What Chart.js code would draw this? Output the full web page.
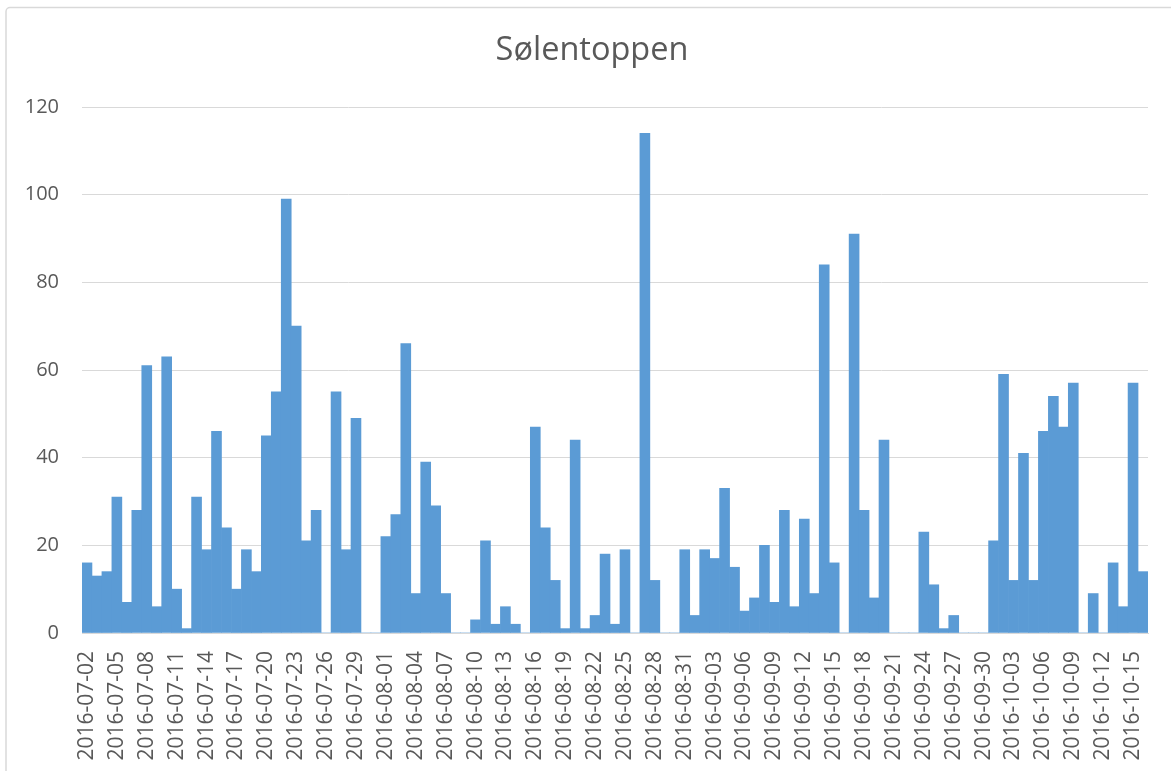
<!DOCTYPE html>
<html>
<head>
<meta charset="utf-8">
<script src="https://cdn.jsdelivr.net/npm/chart.js@4/dist/chart.umd.min.js"></script>
<style>
  html, body { margin: 0; padding: 0; background: #ffffff; }
  #wrap { position: relative; width: 1171px; height: 771px; }
</style>
</head>
<body>
<div id="wrap"><canvas id="c"></canvas></div>
<script>
const chartTitle = "Sølentoppen";

const dates = [
  "2016-07-02","2016-07-03","2016-07-04","2016-07-05","2016-07-06","2016-07-07","2016-07-08","2016-07-09","2016-07-10","2016-07-11",
  "2016-07-12","2016-07-13","2016-07-14","2016-07-15","2016-07-16","2016-07-17","2016-07-18","2016-07-19","2016-07-20","2016-07-21",
  "2016-07-22","2016-07-23","2016-07-24","2016-07-25","2016-07-26","2016-07-27","2016-07-28","2016-07-29","2016-07-30","2016-07-31",
  "2016-08-01","2016-08-02","2016-08-03","2016-08-04","2016-08-05","2016-08-06","2016-08-07","2016-08-08","2016-08-09","2016-08-10",
  "2016-08-11","2016-08-12","2016-08-13","2016-08-14","2016-08-15","2016-08-16","2016-08-17","2016-08-18","2016-08-19","2016-08-20",
  "2016-08-21","2016-08-22","2016-08-23","2016-08-24","2016-08-25","2016-08-26","2016-08-27","2016-08-28","2016-08-29","2016-08-30",
  "2016-08-31","2016-09-01","2016-09-02","2016-09-03","2016-09-04","2016-09-05","2016-09-06","2016-09-07","2016-09-08","2016-09-09",
  "2016-09-10","2016-09-11","2016-09-12","2016-09-13","2016-09-14","2016-09-15","2016-09-16","2016-09-17","2016-09-18","2016-09-19",
  "2016-09-20","2016-09-21","2016-09-22","2016-09-23","2016-09-24","2016-09-25","2016-09-26","2016-09-27","2016-09-28","2016-09-29",
  "2016-09-30","2016-10-01","2016-10-02","2016-10-03","2016-10-04","2016-10-05","2016-10-06","2016-10-07","2016-10-08","2016-10-09",
  "2016-10-10","2016-10-11","2016-10-12","2016-10-13","2016-10-14","2016-10-15","2016-10-16"
];

const counts = [
  16,13,14,31,7,28,61,6,63,10,
  1,31,19,46,24,10,19,14,45,55,
  99,70,21,28,0,55,19,49,0,0,
  22,27,66,9,39,29,9,0,0,3,
  21,2,6,2,0,47,24,12,1,44,
  1,4,18,2,19,0,114,12,0,0,
  19,4,19,17,33,15,5,8,20,7,
  28,6,26,9,84,16,0,91,28,8,
  44,0,0,0,23,11,1,4,0,0,
  0,21,59,12,41,12,46,54,47,57,
  0,9,0,16,6,57,14
];

const yTicks = [0, 20, 40, 60, 80, 100, 120];
const labelEvery = 3;

const textColor = "#595959";
const gridColor = "#d9d9d9";
const barColor = "#5b9bd5";
const fontFamily = "'Open Sans', 'Noto Sans', sans-serif";

const frame = {
  id: "frame",
  beforeDraw(chart) {
    const ctx = chart.ctx;
    ctx.save();
    ctx.fillStyle = "#ffffff";
    ctx.fillRect(0, 0, chart.width, chart.height);
    ctx.strokeStyle = gridColor;
    ctx.lineWidth = 1.5;
    ctx.beginPath();
    if (ctx.roundRect) ctx.roundRect(6, 7.5, 1300, 1000, 4); else ctx.rect(6, 7.5, 1300, 1000);
    ctx.stroke();
    ctx.restore();
  },
  afterDraw(chart) {
    const ctx = chart.ctx;
    ctx.save();
    ctx.fillStyle = textColor;
    ctx.font = "32.5px " + fontFamily;
    ctx.textAlign = "center";
    ctx.textBaseline = "alphabetic";
    ctx.fillText(chartTitle, 592, 60);
    ctx.restore();
  }
};

new Chart(document.getElementById("c"), {
  type: "bar",
  data: {
    labels: dates,
    datasets: [{
      label: chartTitle,
      data: counts,
      backgroundColor: barColor,
      borderWidth: 0,
      categoryPercentage: 1.0,
      barPercentage: 1.0
    }]
  },
  plugins: [frame],
  options: {
    responsive: true,
    maintainAspectRatio: false,
    animation: false,
    layout: { padding: { left: 0, right: 23, top: 107, bottom: 0 } },
    plugins: {
      legend: { display: false },
      tooltip: { enabled: false },
      title: { display: false }
    },
    scales: {
      x: {
        grid: { display: false, drawTicks: false },
        border: { display: true, color: gridColor, width: 1 },
        ticks: {
          autoSkip: false,
          minRotation: 90,
          maxRotation: 90,
          padding: 18,
          color: textColor,
          font: { family: fontFamily, size: 21 },
          callback: function(value, index) {
            return index % labelEvery === 0 ? dates[index] : "";
          }
        },
        afterFit(scale) {
          scale.height = 138;
          scale.paddingLeft = 0;
          scale.paddingRight = 0;
        }
      },
      y: {
        min: 0,
        max: 120,
        afterBuildTicks(scale) { scale.ticks = yTicks.map(v => ({ value: v })); },
        grid: { color: gridColor, lineWidth: 1, drawTicks: false },
        border: { display: false },
        ticks: {
          padding: 23,
          color: textColor,
          font: { family: fontFamily, size: 20 }
        },
        afterFit(scale) {
          scale.width = 82;
          scale.paddingTop = 0;
          scale.paddingBottom = 0;
        }
      }
    }
  }
});
</script>
</body>
</html>
